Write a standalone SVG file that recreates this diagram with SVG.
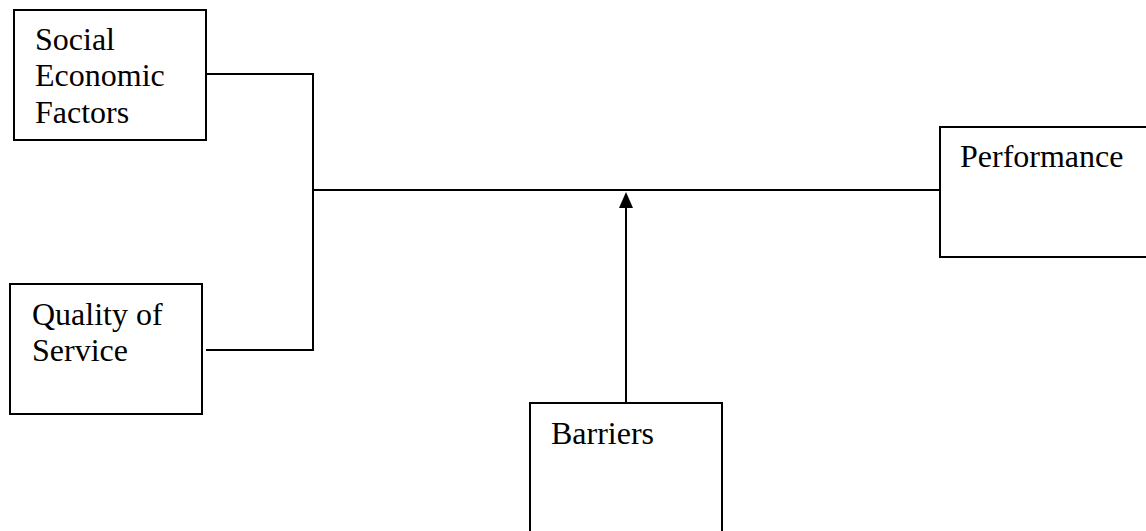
<svg xmlns="http://www.w3.org/2000/svg" width="1146" height="531" viewBox="0 0 1146 531">
  <style>
    .box { fill: #ffffff; stroke: #000000; stroke-width: 2; }
    .lbl { font-family: 'Liberation Serif', 'Times New Roman', Times, 'DejaVu Serif', serif; font-size: 32px; fill: #000000; }
    .wire { fill: none; stroke: #000000; stroke-width: 2; }
  </style>
  <rect width="1146" height="531" fill="#ffffff"/>

  <!-- connectors -->
  <g id="connectors">
    <polyline class="wire" points="206,74 313,74 313,350 206,350"/>
    <line class="wire" x1="313" y1="190" x2="940" y2="190"/>
    <line class="wire" x1="626" y1="403" x2="626" y2="207"/>
    <path d="M619,208 L626,192 L633,208 Z" fill="#000000"/>
  </g>

  <g id="social-economic-factors">
    <rect class="box" x="14" y="10" width="192" height="130"/>
    <text class="lbl" x="35" y="50" font-family="Liberation Serif, serif">Social</text>
    <text class="lbl" x="35" y="86" font-family="Liberation Serif, serif">Economic</text>
    <text class="lbl" x="35" y="123" font-family="Liberation Serif, serif">Factors</text>
  </g>

  <g id="quality-of-service">
    <rect class="box" x="10" y="284" width="192" height="130"/>
    <text class="lbl" x="32" y="325">Quality of</text>
    <text class="lbl" x="32" y="361">Service</text>
  </g>

  <g id="barriers">
    <rect class="box" x="530" y="403" width="192" height="140"/>
    <text class="lbl" x="551" y="444">Barriers</text>
  </g>

  <g id="performance">
    <rect class="box" x="940" y="127" width="220" height="130"/>
    <text class="lbl" x="960" y="167">Performance</text>
  </g>
</svg>
